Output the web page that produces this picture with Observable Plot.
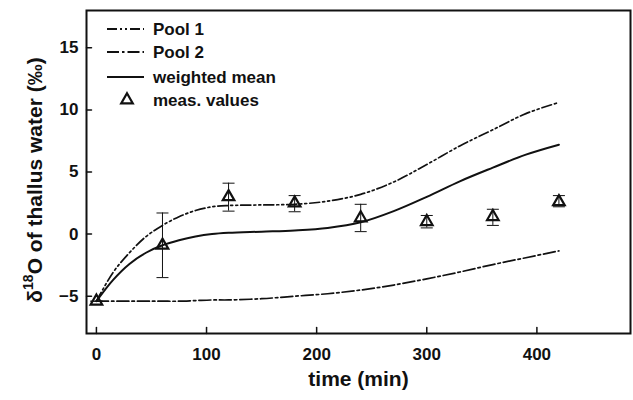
<!DOCTYPE html>
<html><head><meta charset="utf-8">
<script src="https://cdn.jsdelivr.net/npm/d3@7"></script>
<script src="https://cdn.jsdelivr.net/npm/@observablehq/plot@0.6"></script>
<style>
body{margin:0;background:#fff}
svg{font-family:"Liberation Sans",Arial,Helvetica,sans-serif;}
</style>
</head><body><div id="chart"></div>
<script>
// model curves (time in min, δ18O in ‰)
const curveTime = [0,15,30,45,60,75,90,105,120,150,180,210,240,270,300,330,360,390,420];
const pool1     = [-5.4,-3.1,-1.5,-0.2,0.7,1.4,1.9,2.2,2.3,2.35,2.4,2.65,3.2,4.2,5.6,7.1,8.4,9.7,10.6];
const pool2     = [-5.4,-5.4,-5.4,-5.4,-5.4,-5.4,-5.35,-5.3,-5.3,-5.2,-5.0,-4.8,-4.5,-4.1,-3.6,-3.05,-2.45,-1.9,-1.35];
const wMean     = [-5.4,-3.7,-2.4,-1.5,-0.9,-0.5,-0.2,0.0,0.1,0.2,0.3,0.5,0.95,1.85,3.0,4.25,5.35,6.4,7.2];

// measured values with error bars
const measTime = [0,60,120,180,240,300,360,420];
const measVal  = [-5.4,-0.9,3.0,2.5,1.3,1.0,1.4,2.6];
const measLo   = [-5.4,-3.5,1.85,1.8,0.2,0.5,0.7,2.2];
const measHi   = [-5.4,1.7,4.1,3.1,2.4,1.5,2.0,3.1];

const xTicks = [0,100,200,300,400];
const yTicks = [-5,0,5,10,15];
const xTitle = "time (min)";
const legendLabels = ["Pool 1","Pool 2","weighted mean","meas. values"];

const dashPool1 = "10,3,2,3,2,3";
const dashPool2 = "12,3,2.5,3";
const ink = "#111";

const curves = curveTime.map((t,i)=>({t, p1: pool1[i], p2: pool2[i], m: wMean[i]}));
const meas = measTime.map((t,i)=>({t, v: measVal[i], lo: measLo[i], hi: measHi[i]}));

const tickShape = {draw(ctx, l){ ctx.moveTo(0,0); ctx.lineTo(0,-l); }};
const capSymbol = {draw(ctx, size){ const r = Math.sqrt(size/Math.PI); ctx.moveTo(-r,0); ctx.lineTo(r,0); }};

const chart = Plot.plot({
  width: 633, height: 400,
  marginLeft: 86, marginRight: 3, marginTop: 10, marginBottom: 67,
  style: {fontFamily: '"Liberation Sans", Arial, sans-serif', background: "white", color: ink},
  x: {domain: [-9, 485]},
  y: {domain: [-8, 18]},
  marks: [
    Plot.axisX({ticks: xTicks, tickSize: 0, tickPadding: 14, label: null, fontSize: 17, fontWeight: "bold"}),
    Plot.axisY({ticks: yTicks, tickSize: 0, tickPadding: 8, label: null, fontSize: 17, fontWeight: "bold"}),
    Plot.vector(xTicks, {x: d=>d, frameAnchor: "bottom", length: 6, anchor: "start", rotate: 0, shape: tickShape, stroke: ink, strokeWidth: 1.5}),
    Plot.vector(yTicks, {y: d=>d, frameAnchor: "left", length: 5, anchor: "start", rotate: 90, shape: tickShape, stroke: ink, strokeWidth: 1.5}),
    Plot.line(curves, {x: "t", y: "p2", curve: "catmull-rom", stroke: ink, strokeWidth: 1.7, strokeDasharray: dashPool2}),
    Plot.line(curves, {x: "t", y: "p1", curve: "catmull-rom", stroke: ink, strokeWidth: 1.7, strokeDasharray: dashPool1}),
    Plot.line(curves, {x: "t", y: "m", curve: "catmull-rom", stroke: ink, strokeWidth: 2}),
    Plot.ruleX(meas, {x: "t", y1: "lo", y2: "hi", stroke: ink, strokeWidth: 1}),
    Plot.dot(meas, {x: "t", y: "lo", symbol: capSymbol, r: 6, stroke: ink, strokeWidth: 1}),
    Plot.dot(meas, {x: "t", y: "hi", symbol: capSymbol, r: 6, stroke: ink, strokeWidth: 1}),
    Plot.dot(meas, {x: "t", y: "v", symbol: "triangle", r: 4.3, fill: "none", stroke: ink, strokeWidth: 2.2}),
    Plot.text([xTitle], {text: d=>d, frameAnchor: "bottom", dy: 52, fontSize: 21, fontWeight: "bold", fill: ink}),
    Plot.frame({stroke: ink, strokeWidth: 2})
  ]
});
document.getElementById("chart").appendChild(chart);

const svg = d3.select(chart);
// y-axis title with superscript
const yt = svg.append("text")
  .attr("transform", "translate(42,180) rotate(-90)")
  .attr("text-anchor", "middle")
  .attr("font-size", 21).attr("font-weight", "bold").attr("fill", ink);
yt.append("tspan").text("δ");
yt.append("tspan").attr("font-size", 14).attr("dy", -9).text("18");
yt.append("tspan").attr("dy", 9).text("O of thallus water (‰)");

// legend
const lg = svg.append("g").attr("font-size", 17).attr("font-weight", "bold").attr("fill", ink).attr("text-anchor", "start");
const rows = [29, 52, 77, 100];
const styles = [dashPool1, dashPool2, null, "tri"];
rows.forEach((ry, i) => {
  if (styles[i] === "tri") {
    lg.append("path").attr("d", d3.symbol(d3.symbolTriangle, Math.PI*4.3*4.3)())
      .attr("transform", `translate(127,${ry})`).attr("fill", "none").attr("stroke", ink).attr("stroke-width", 2.2);
  } else {
    const l = lg.append("line").attr("x1", 107).attr("x2", 144).attr("y1", ry).attr("y2", ry)
      .attr("stroke", ink).attr("stroke-width", 2);
    if (styles[i]) l.attr("stroke-dasharray", styles[i]);
  }
  lg.append("text").attr("x", 153).attr("y", ry).attr("dy", "0.36em").attr("text-anchor", "start").text(legendLabels[i]);
});
</script></body></html>
